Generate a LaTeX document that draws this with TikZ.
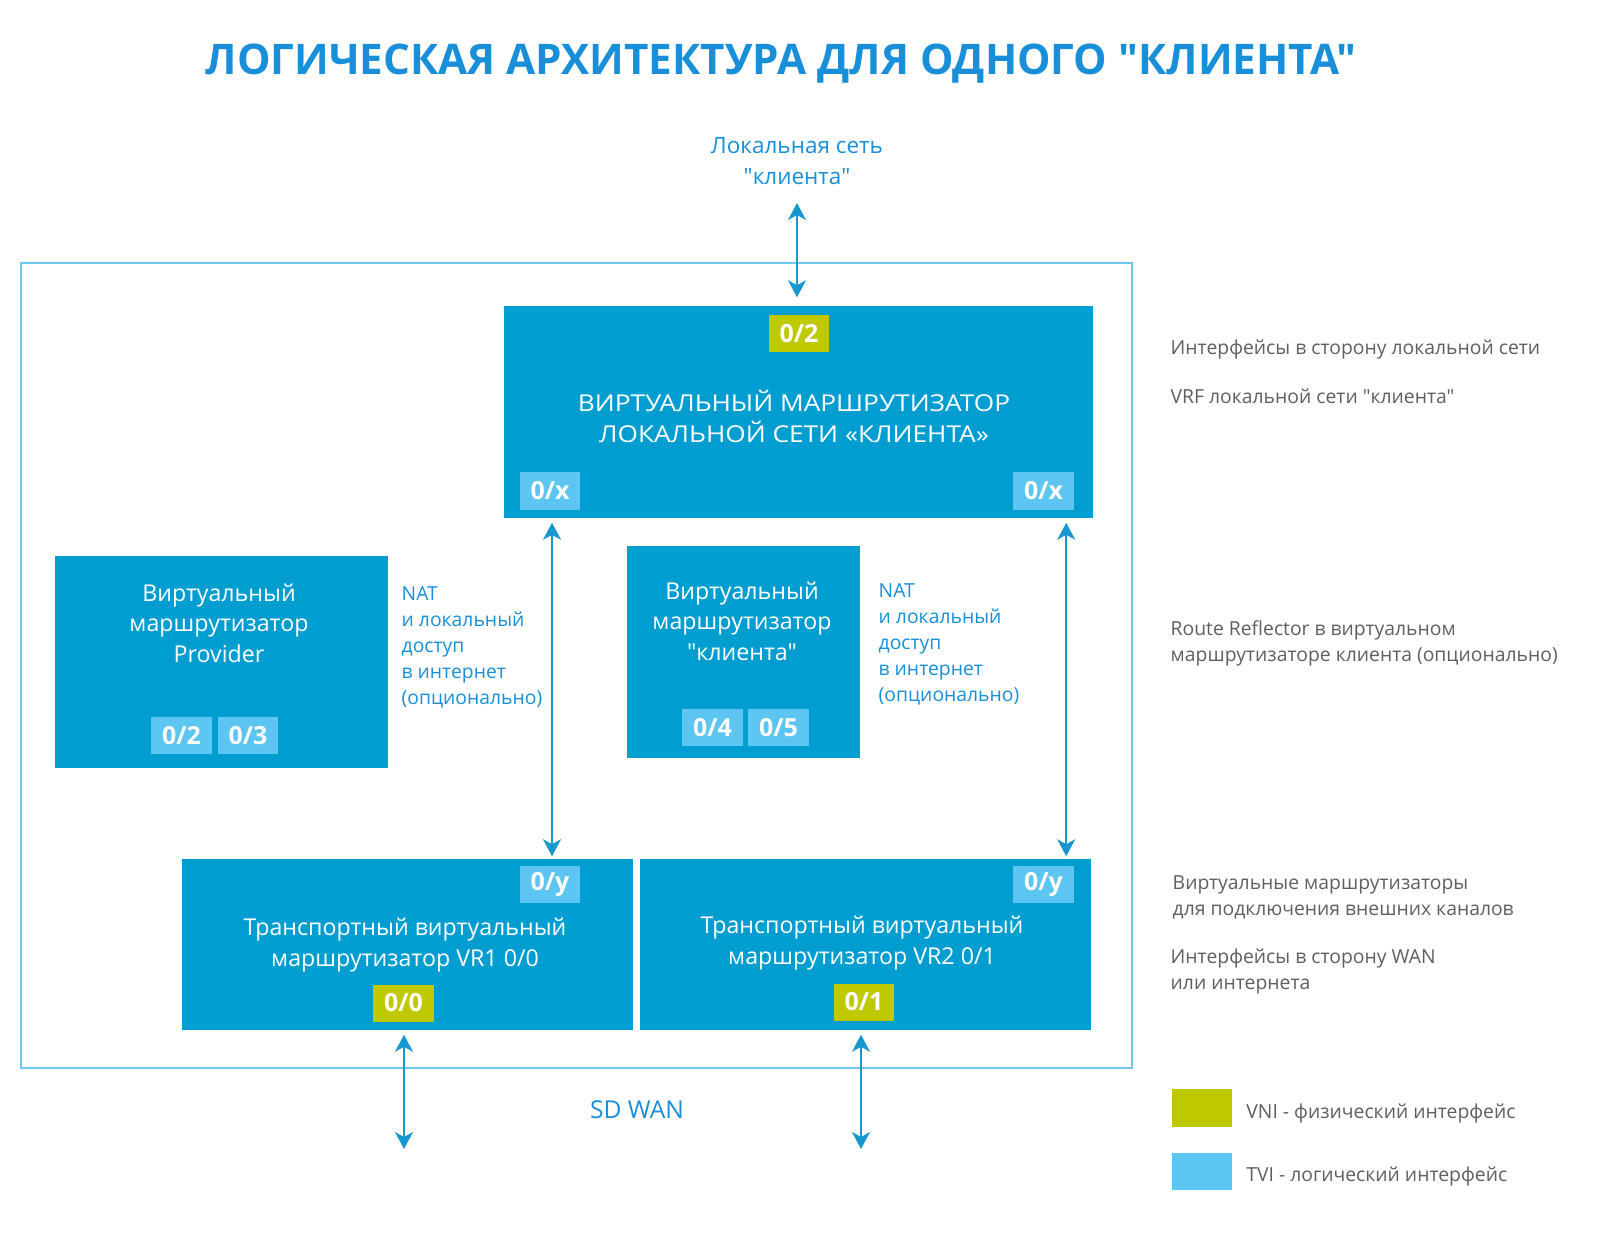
\documentclass[tikz,border=0pt]{standalone}
\usepackage{fontspec}
\newfontfamily\osans{Open Sans}
\newfontfamily\osanswide{Open Sans}[FakeStretch=1.13]
\usetikzlibrary{arrows.meta,positioning}
\definecolor{boxblue}{RGB}{0,157,209}
\definecolor{tagblue}{RGB}{92,197,242}
\definecolor{taggreen}{RGB}{190,201,0}
\definecolor{lineblue}{RGB}{22,152,207}
\definecolor{headblue}{RGB}{24,143,216}
\definecolor{notegray}{RGB}{95,95,95}
\definecolor{frameblue}{RGB}{110,200,240}

\begin{document}
\begin{tikzpicture}[x=0.01cm, y=-0.01cm, >={Stealth[length=0.17cm, width=0.18cm, inset=0.05cm]}]
  \tikzstyle{router} = [rectangle, fill=boxblue, inner sep=0pt]
  \tikzstyle{routertext} = [text=white, align=center, font=\osans\fontsize{6.6}{8.7}\selectfont]
  \tikzstyle{tvi} = [rectangle, fill=tagblue, text=white, font=\osans\bfseries\fontsize{7.1}{8}\selectfont, minimum width=0.6cm, minimum height=0.37cm, inner sep=0pt]
  \tikzstyle{vni} = [tvi, fill=taggreen]
  \tikzstyle{note} = [align=left, text=notegray, anchor=west, inner sep=0pt, font=\osans\fontsize{5.5}{7.4}\selectfont]
  \tikzstyle{bluenote} = [align=left, text=headblue, anchor=west, inner sep=0pt, font=\osans\fontsize{5.5}{7.4}\selectfont]
  \tikzstyle{link} = [<->, lineblue, line width=0.02cm]

  \useasboundingbox (0,0) rectangle (1600,1236);

  \node[text=headblue, font=\osans\bfseries\fontsize{12}{14}\selectfont] (title) at (781,64) {ЛОГИЧЕСКАЯ АРХИТЕКТУРА ДЛЯ ОДНОГО "КЛИЕНТА"};
  \node[text=headblue, align=center, font=\osans\fontsize{6.4}{8.8}\selectfont] (lan) at (797,161) {Локальная сеть\\"клиента"};

  \draw[frameblue, line width=0.02cm] (21,263) rectangle (1132,1068);
  \node[text=headblue, font=\osans\fontsize{7}{8}\selectfont] (sdwan) at (637,1110) {SD WAN};

  % routers
  \node[router, minimum width=5.89cm, minimum height=2.12cm] (vrlan) at (798.5,412) {};
  \node[routertext, font=\osanswide\fontsize{6.6}{8.8}\selectfont] at (794,416) {ВИРТУАЛЬНЫЙ МАРШРУТИЗАТОР\\ЛОКАЛЬНОЙ СЕТИ «КЛИЕНТА»};
  \node[router, minimum width=3.33cm, minimum height=2.12cm] (vrprov) at (221.5,662) {};
  \node[routertext] at (219,623) {Виртуальный\\маршрутизатор\\Provider};
  \node[router, minimum width=2.33cm, minimum height=2.12cm] (vrcli) at (743.5,652) {};
  \node[routertext] at (742,621) {Виртуальный\\маршрутизатор\\"клиента"};
  \node[router, minimum width=4.51cm, minimum height=1.71cm] (vr1) at (407.5,944.5) {};
  \node[routertext] at (405,945) {Транспортный виртуальный\\маршрутизатор VR1 0/0};
  \node[router, minimum width=4.51cm, minimum height=1.71cm] (vr2) at (865.5,944.5) {};
  \node[routertext] at (862,943) {Транспортный виртуальный\\маршрутизатор VR2 0/1};

  % interfaces
  \node[vni] (t02) at (799,333.5) {0/2};
  \node[tvi] (tx1) at (550,491) {0/x};
  \node[tvi] (tx2) at (1043.5,491) {0/x};
  \node[tvi] (p02) at (181.5,735.5) {0/2};
  \node[tvi] (p03) at (248,735.5) {0/3};
  \node[tvi] (c04) at (712.5,727.5) {0/4};
  \node[tvi] (c05) at (778.5,727.5) {0/5};
  \node[tvi] (ty1) at (550,884.5) {0/y};
  \node[vni] (t00) at (403.5,1003) {0/0};
  \node[tvi] (ty2) at (1043.5,884.5) {0/y};
  \node[vni] (t01) at (864,1002) {0/1};

  \node[bluenote] (nat1) at (401,647) {NAT\\и локальный\\доступ\\в интернет\\(опционально)};
  \node[bluenote] (nat2) at (878,644) {NAT\\и локальный\\доступ\\в интернет\\(опционально)};

  % connectors
  \coordinate (wan1) at (404,1149);
  \coordinate (wan2) at (861,1149);
  \draw[link, shorten <=0.06cm, shorten >=0.08cm] (lan.south) -- (lan.south |- vrlan.north);
  \draw[link, shorten <=0.04cm, shorten >=0.02cm] ([xshift=0.02cm]tx1.center |- vrlan.south) -- ([xshift=0.02cm]ty1.center |- vr1.north);
  \draw[link, shorten <=0.04cm, shorten >=0.02cm] ([xshift=-0.08cm]tx2.east |- vrlan.south) -- ([xshift=-0.08cm]ty2.east |- vr2.north);
  \draw[link, shorten <=0.04cm] (wan1 |- vr1.south) -- (wan1);
  \draw[link, shorten <=0.04cm] (wan2 |- vr2.south) -- (wan2);

  % legend
  \node[note] (n1) at (1170,349) {Интерфейсы в сторону локальной сети};
  \node[note] (n2) at (1170,396) {VRF локальной сети "клиента"};
  \node[note] (n3) at (1170,643) {Route Reflector в виртуальном\\маршрутизаторе клиента (опционально)};
  \node[note] (n4) at (1172,897) {Виртуальные маршрутизаторы\\для подключения внешних каналов};
  \node[note] (n5) at (1170,971) {Интерфейсы в сторону WAN\\или интернета};
  \node[vni, minimum height=0.38cm] (keyvni) at (1202,1108) {};
  \node[note, right=0.13cm of keyvni, yshift=-0.05cm] (lvni) {VNI - физический интерфейс};
  \node[tvi] (keytvi) at (1202,1171.5) {};
  \node[note, right=0.13cm of keytvi, yshift=-0.05cm] (ltvi) {TVI - логический интерфейс};
\end{tikzpicture}
\end{document}
